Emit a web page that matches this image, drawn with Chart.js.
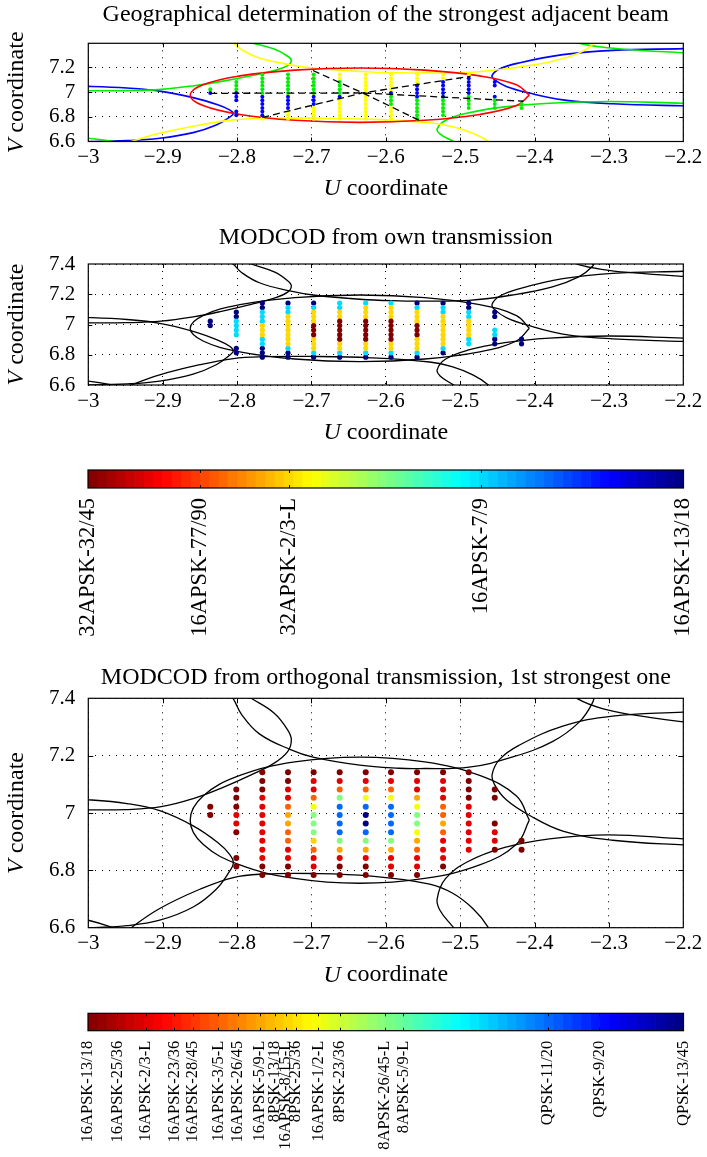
<!DOCTYPE html>
<html>
<head>
<meta charset="utf-8">
<script src="https://cdn.jsdelivr.net/npm/chart.js"></script>
<style>
html,body{margin:0;padding:0;background:#fff;}
body{width:707px;height:1157px;position:relative;overflow:hidden;}
canvas{position:absolute;left:0;}
</style>
</head>
<body>
<canvas id="c1" width="707" height="215" style="top:0px"></canvas>
<canvas id="c2" width="707" height="240" style="top:215px"></canvas>
<canvas id="c3" width="707" height="195" style="top:455px"></canvas>
<canvas id="c4" width="707" height="350" style="top:650px"></canvas>
<canvas id="c5" width="707" height="157" style="top:1000px"></canvas>
<script>
// ---------------- DATA ----------------
const uColumns = [-2.836,-2.801,-2.766,-2.7315,-2.697,-2.662,-2.627,-2.593,-2.558,-2.523,-2.4885,-2.4535,-2.4175];
const vRows = [7.142,7.112,7.082,7.053,7.022,6.993,6.963,6.933,6.903,6.872,6.843,6.813,6.784];

const xTickValues = [-3,-2.9,-2.8,-2.7,-2.6,-2.5,-2.4,-2.3,-2.2];
const xTickLabels = ['\u22123','\u22122.9','\u22122.8','\u22122.7','\u22122.6','\u22122.5','\u22122.4','\u22122.3','\u22122.2'];
const yTickValues = [6.6,6.8,7,7.2,7.4];
const yTickLabels = ['6.6','6.8','7','7.2','7.4'];

// Panel 1: strongest adjacent beam per grid point (G green, B blue, Y yellow), columns by uColumns, rows by vRows
const _ = null;
const strongestBeam = [
 [_,_,_,_,'G','B',_,_,_,_,_,_,_],
 [_,_,'G','G','G','B','B','B',_,_,'B','B',_],
 ['G','G','G','G','G','G','B','B','B','B','B','B','Y'],
 ['G','G','G','G','G','G','B','B','B','B','Y','Y','Y'],
 ['G','G','G','G','G','G','B','B','B','Y','Y','Y','Y'],
 ['Y','Y','G','G','G','G','B','Y','Y','Y','Y','Y','Y'],
 ['Y','Y','Y','Y','Y','Y','Y','Y','Y','Y','Y','Y','Y'],
 ['Y','Y','Y','Y','Y','B','G','G','G','Y','Y','Y','Y'],
 ['Y','Y','Y','B','B','B','B','G','G','G','G','G','G'],
 ['Y','Y','B','B','B','B','B','G','G','G','G','G',_],
 ['Y','B','B','B','B','B','G','G','G','G',_,_,_],
 [_,_,'B','B',_,_,'B','G','G','G',_,_,_],
 [_,_,_,_,_,_,_,_,'G','G',_,_,_]
];

// Panel 2 colorbar (MODCOD from own transmission)
const ownModcodLabels = ['32APSK-32/45','16APSK-77/90','32APSK-2/3-L','16APSK-7/9','16APSK-13/18'];
const ownModcodPos = [0,0.188,0.337,0.660,1];
const ownModcod = [
 [_,_,_,_,4,4,_,_,_,_,_,_,_],
 [_,_,4,4,3,3,3,3,_,_,4,4,_],
 [4,4,3,3,3,2,2,2,3,3,4,4,4],
 [4,3,3,2,2,2,2,2,2,2,3,4,4],
 [4,3,2,2,2,0,0,0,2,2,2,3,4],
 [3,3,2,2,0,0,0,0,0,2,2,3,4],
 [3,2,2,2,0,0,0,0,0,2,2,3,4],
 [3,2,2,2,0,0,0,0,0,2,2,3,4],
 [4,3,2,2,2,0,0,0,2,2,2,3,4],
 [4,3,3,2,2,2,2,2,2,2,3,4,_],
 [4,4,3,3,2,2,2,2,3,3,_,_,_],
 [_,_,4,4,_,_,3,3,4,4,_,_,_],
 [_,_,_,_,_,_,_,_,4,4,_,_,_]
];

// Panel 3 colorbar (MODCOD from orthogonal transmission)
const orthModcodLabels = ['16APSK-13/18','16APSK-25/36','16APSK-2/3-L','16APSK-23/36','16APSK-28/45','16APSK-3/5-L','16APSK-26/45','16APSK-5/9-L','8PSK-13/18','16APSK-8/15-L','8PSK-25/36','16APSK-1/2-L','8PSK-23/36','8APSK-26/45-L','8APSK-5/9-L','QPSK-11/20','QPSK-9/20','QPSK-13/45'];
const orthModcodPos = [0,0.0492,0.0974,0.1449,0.1758,0.2188,0.2514,0.2889,0.314,0.332,0.3488,0.3868,0.4232,0.4987,0.5295,0.772,0.8587,1];
const orthModcod = [
 [_,_,_,_,0,0,_,_,_,_,_,_,_],
 [_,_,0,0,0,2,2,0,_,_,0,0,_],
 [0,0,0,2,2,2,2,2,2,2,2,0,0],
 [0,0,2,2,5,7,7,5,5,2,2,0,0],
 [0,2,2,5,11,13,13,13,9,5,2,2,0],
 [0,2,5,13,15,15,15,15,13,7,2,0,0],
 [0,2,5,11,15,17,17,15,13,7,2,0,0],
 [0,2,5,11,15,15,15,15,13,7,2,2,0],
 [0,2,2,7,11,13,13,11,7,5,2,2,0],
 [0,2,2,2,5,5,7,5,2,2,2,0,_],
 [0,0,0,0,2,2,2,2,2,2,_,_,_],
 [_,_,0,0,_,_,0,2,2,0,_,_,_],
 [_,_,_,_,_,_,_,_,0,0,_,_,_]
];

// Beam contours (U,V)
const beamCentre = [[-2.407,6.975],[-2.4243,7.059],[-2.4738,7.131],[-2.5477,7.178],[-2.635,7.195],[-2.7223,7.178],[-2.7962,7.131],[-2.8457,7.059],[-2.863,6.975],[-2.8457,6.891],[-2.7962,6.819],[-2.7223,6.772],[-2.635,6.755],[-2.5477,6.772],[-2.4738,6.819],[-2.4243,6.891],[-2.407,6.975]];
const beamUpper = [[-2.815,7.43],[-2.805,7.398],[-2.794,7.344],[-2.770,7.276],[-2.729,7.222],[-2.698,7.195],[-2.635,7.167],[-2.582,7.156],[-2.555,7.155],[-2.488,7.16],[-2.430,7.195],[-2.376,7.249],[-2.34,7.317],[-2.322,7.385],[-2.318,7.43]];
const beamLower = [[-2.965,6.55],[-2.94,6.604],[-2.904,6.667],[-2.85,6.734],[-2.805,6.775],[-2.765,6.787],[-2.70,6.789],[-2.62,6.78],[-2.541,6.752],[-2.51,6.72],[-2.483,6.667],[-2.463,6.604],[-2.455,6.55]];
const beamUpperLeft = [[-2.80,7.43],[-2.781,7.40],[-2.75,7.348],[-2.732,7.29],[-2.727,7.255],[-2.732,7.214],[-2.75,7.174],[-2.781,7.133],[-2.821,7.087],[-2.857,7.052],[-2.902,7.022],[-2.95,7.012],[-3.0,7.011],[-3.05,7.012]];
const beamLowerRight = [[-2.49,6.55],[-2.512,6.61],[-2.527,6.66],[-2.531,6.70],[-2.52,6.77],[-2.49,6.83],[-2.44,6.88],[-2.38,6.91],[-2.30,6.924],[-2.2,6.91],[-2.15,6.905]];
const beamLowerLeft = [[-3.05,7.05],[-3.0,7.046],[-2.948,7.033],[-2.904,7.008],[-2.859,6.955],[-2.826,6.897],[-2.81,6.856],[-2.805,6.826],[-2.81,6.797],[-2.828,6.734],[-2.859,6.672],[-2.904,6.626],[-2.948,6.607],[-3.0,6.60],[-3.05,6.60]];
const beamUpperRight = [[-2.15,7.36],[-2.2,7.352],[-2.295,7.338],[-2.362,7.303],[-2.421,7.236],[-2.447,7.187],[-2.457,7.135],[-2.454,7.10],[-2.438,7.046],[-2.407,6.992],[-2.362,6.937],[-2.295,6.905],[-2.2,6.889],[-2.15,6.885]];
const beamFarLowerLeft = [[-3.03,6.64],[-3.0,6.626],[-2.97,6.603],[-2.955,6.585]];
const beamFarUpperRight = [[-2.355,7.43],[-2.342,7.398],[-2.31,7.365],[-2.27,7.343],[-2.2,7.318],[-2.15,7.305]];

// Dashed geometry lines (panel 1)
const dashLine1 = [[-2.836,6.99],[-2.631,6.993],[-2.415,6.926]];
const dashLine2 = [[-2.766,6.795],[-2.631,6.993],[-2.486,7.128]];
const dashLine3 = [[-2.698,7.175],[-2.631,6.993],[-2.553,6.765]];

// ---------------- STYLE / HELPERS ----------------
const SERIF = '"Liberation Serif", "DejaVu Serif", serif';
Chart.defaults.color = '#000';

function jet(s){
  const c = v => Math.round(255*Math.max(0,Math.min(1,v)));
  return 'rgb(' + c(1.5-Math.abs(4*s-3)) + ',' + c(1.5-Math.abs(4*s-2)) + ',' + c(1.5-Math.abs(4*s-1)) + ')';
}
const colorAt = t => jet(1-t);

function pts(arr){ return arr.map(p => ({x:p[0], y:p[1]})); }
function gridPoints(codes, code){
  const out = [];
  codes.forEach((col,i) => col.forEach((c,j) => { if (c === code) out.push({x:uColumns[i], y:vRows[j]}); }));
  return out;
}
function lineDs(arr, color, width, dash){
  return {data: pts(arr), showLine:true, pointRadius:0, pointHoverRadius:0, borderColor:color, borderWidth:width,
          tension: dash ? 0 : 0.4, capBezierPoints:false, fill:false, borderDash: dash || [], clip: 0};
}
function dotDs(data, color, r){
  return {data, showLine:false, pointRadius:r, pointHoverRadius:r, backgroundColor:color, pointBackgroundColor:color,
          borderWidth:0, pointBorderWidth:0, clip: 0};
}
function labelFor(values, labels, v){
  const i = values.findIndex(t => Math.abs(t - v) < 1e-9);
  return i >= 0 ? labels[i] : '';
}
function drawMixed(ctx, parts, cx, cy, size){
  const widths = parts.map(p => { ctx.font = p[1] + ' ' + size + 'px ' + SERIF; return ctx.measureText(p[0]).width; });
  const total = widths.reduce((a,b)=>a+b,0);
  let x = cx - total/2;
  parts.forEach((p,i) => { ctx.font = p[1] + ' ' + size + 'px ' + SERIF; ctx.textAlign = 'left'; ctx.textBaseline = 'middle'; ctx.fillText(p[0], x, cy); x += widths[i]; });
}

const framePlugin = {
  id: 'frame',
  afterDatasetsDraw(chart, args, o){
    if (!o || !o.on) return;
    const {ctx, chartArea:a, scales} = chart;
    ctx.save();
    ctx.strokeStyle = '#000';
    ctx.lineWidth = 1;
    ctx.beginPath();
    const L = o.tickLen;
    scales.x.ticks.forEach(t => {
      const p = Math.round(scales.x.getPixelForValue(t.value)) + 0.5;
      if (p <= a.left + 1 || p >= a.right - 1) return;
      ctx.moveTo(p, a.bottom); ctx.lineTo(p, a.bottom - L);
      ctx.moveTo(p, a.top); ctx.lineTo(p, a.top + L);
    });
    if (o.yTicks) scales.y.ticks.forEach(t => {
      const p = Math.round(scales.y.getPixelForValue(t.value)) + 0.5;
      if (p <= a.top + 1 || p >= a.bottom - 1) return;
      ctx.moveTo(a.left, p); ctx.lineTo(a.left + L, p);
      ctx.moveTo(a.right, p); ctx.lineTo(a.right - L, p);
    });
    ctx.stroke();
    ctx.lineWidth = 1.2;
    ctx.strokeRect(a.left, a.top, a.right - a.left, a.bottom - a.top);
    ctx.restore();
  }
};
const axisTitlePlugin = {
  id: 'axisTitles',
  afterDraw(chart, args, o){
    if (!o || !o.on) return;
    const {ctx, chartArea:a} = chart;
    ctx.save();
    ctx.fillStyle = '#000';
    drawMixed(ctx, [['U','italic'],[' coordinate','normal']], (a.left + a.right)/2, a.bottom + o.xOffset, o.size);
    ctx.translate(o.yX, (a.top + a.bottom)/2);
    ctx.rotate(-Math.PI/2);
    drawMixed(ctx, [['V','italic'],[' coordinate','normal']], 0, 0, o.size);
    ctx.restore();
  }
};
Chart.register(framePlugin, axisTitlePlugin);

function scatterPanel(id, cfg){
  return new Chart(document.getElementById(id), {
    type: 'scatter',
    data: {datasets: cfg.datasets},
    options: {
      responsive:false, animation:false, devicePixelRatio:1,
      events: [],
      layout: {padding: {left:0, right:707-683.3, top:0, bottom:0}},
      elements: {line: {capBezierPoints:false}},
      plugins: {
        legend:{display:false}, tooltip:{enabled:false},
        title: {display:true, text:cfg.title, fullSize:false, color:'#000',
                font:{family:SERIF, size:24, weight:'normal'}, padding:{top:cfg.titleTop, bottom:cfg.titleBottom}},
        frame: {on:true, tickLen:cfg.tickLen, yTicks:true},
        axisTitles: {on:true, xOffset:47.5, yX:17, size:24}
      },
      scales: {
        x: {type:'linear', min:-3, max:-2.2,
            afterBuildTicks: s => { s.ticks = xTickValues.map(v => ({value:v})); },
            afterFit: s => { s.height = cfg.xAxisHeight; },
            ticks: {autoSkip:false, maxRotation:0, minRotation:0, padding:3.5, color:'#000',
                    font:{family:SERIF, size:21}, callback: v => labelFor(xTickValues, xTickLabels, v)},
            grid: {color:'#000', lineWidth:1, drawTicks:false},
            border: {display:false, dash:[1,6]}},
        y: {type:'linear', min:6.6, max:cfg.yMax,
            afterBuildTicks: s => { s.ticks = cfg.yTicks.map(v => ({value:v})); },
            afterFit: s => { s.width = 88.3; },
            ticks: {autoSkip:false, padding:13, color:'#000',
                    font:{family:SERIF, size:21}, callback: v => labelFor(yTickValues, yTickLabels, v)},
            grid: {color:'#000', lineWidth:1, drawTicks:false},
            border: {display:false, dash:[1,6]}}
      }
    }
  });
}

function colorbar(id, positions, labels, cfg){
  const datasets = [];
  const steps = 64;
  for (let i = 0; i < steps; i++) {
    datasets.push({data:[1/steps], backgroundColor: colorAt((i + 0.5)/steps), borderWidth:0,
                   barPercentage:1, categoryPercentage:1});
  }
  return new Chart(document.getElementById(id), {
    type: 'bar',
    data: {labels:[''], datasets},
    options: {
      indexAxis:'y', responsive:false, animation:false, devicePixelRatio:1, events: [],
      layout: {padding: {left:88, right:707-683.5, top:cfg.top, bottom:0}},
      plugins: {legend:{display:false}, tooltip:{enabled:false}, title:{display:false},
                frame:{on:true, tickLen:3, yTicks:false}, axisTitles:{on:false}},
      scales: {
        x: {type:'linear', stacked:true, min:0, max:1,
            afterBuildTicks: s => { s.ticks = positions.map(v => ({value:v})); },
            afterFit: s => { s.height = cfg.axisHeight; s.paddingLeft = 0; s.paddingRight = 0; },
            ticks: {autoSkip:false, minRotation:90, maxRotation:90, padding:10, color:'#000',
                    font:{family:SERIF, size:cfg.fontSize}, callback: v => labelFor(positions, labels, v)},
            grid: {display:false, drawTicks:false}, border:{display:false}},
        y: {type:'category', stacked:true, display:false}
      }
    }
  });
}

// ---------------- PANEL 1 ----------------
const beamColors = {G:'#00ee00', B:'#0000ff', Y:'#ffff00'};
const panel1 = [
  lineDs(dashLine1, '#000', 1.3, [7,4]),
  lineDs(dashLine2, '#000', 1.3, [7,4]),
  lineDs(dashLine3, '#000', 1.3, [7,4]),
  dotDs(gridPoints(strongestBeam,'G'), beamColors.G, 2),
  dotDs(gridPoints(strongestBeam,'B'), beamColors.B, 2),
  dotDs(gridPoints(strongestBeam,'Y'), beamColors.Y, 2),
  lineDs(beamCentre, '#ff0000', 1.6),
  lineDs(beamUpper, '#ffff00', 1.6),
  lineDs(beamLower, '#ffff00', 1.6),
  lineDs(beamUpperLeft, '#00ee00', 1.6),
  lineDs(beamLowerRight, '#00ee00', 1.6),
  lineDs(beamFarLowerLeft, '#00ee00', 1.6),
  lineDs(beamFarUpperRight, '#00ee00', 1.6),
  lineDs(beamLowerLeft, '#0000ff', 1.6),
  lineDs(beamUpperRight, '#0000ff', 1.6)
];
scatterPanel('c1', {datasets:panel1, title:'Geographical determination of the strongest adjacent beam',
  titleTop:0, titleBottom:14.5, xAxisHeight:73.5, yMax:7.395, yTicks:[6.6,6.8,7,7.2], tickLen:4});

// ---------------- PANEL 2 ----------------
const contoursBlack = [beamCentre, beamUpper, beamLower, beamUpperLeft, beamLowerRight, beamLowerLeft, beamUpperRight, beamFarLowerLeft, beamFarUpperRight];
const panel2 = [];
ownModcodPos.forEach((p, k) => { const d = gridPoints(ownModcod, k); if (d.length) panel2.push(dotDs(d, colorAt(p), 2.6)); });
contoursBlack.forEach(c => panel2.push(lineDs(c, '#000', 1.3)));
scatterPanel('c2', {datasets:panel2, title:'MODCOD from own transmission',
  titleTop:8.6, titleBottom:11.6, xAxisHeight:70, yMax:7.4, yTicks:yTickValues, tickLen:4});

colorbar('c3', ownModcodPos, ownModcodLabels, {top:15, axisHeight:162, fontSize:22.5});

// ---------------- PANEL 3 ----------------
const panel3 = [];
orthModcodPos.forEach((p, k) => { const d = gridPoints(orthModcod, k); if (d.length) panel3.push(dotDs(d, colorAt(p), 3)); });
contoursBlack.forEach(c => panel3.push(lineDs(c, '#000', 1.3)));
scatterPanel('c4', {datasets:panel3, title:'MODCOD from orthogonal transmission, 1st strongest one',
  titleTop:13.6, titleBottom:5.9, xAxisHeight:72.3, yMax:7.4, yTicks:yTickValues, tickLen:5});

colorbar('c5', orthModcodPos, orthModcodLabels, {top:13.3, axisHeight:126.3, fontSize:16.5});
</script>
</body>
</html>
